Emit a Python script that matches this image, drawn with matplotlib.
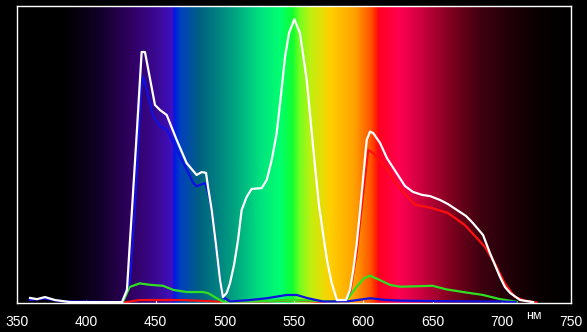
import numpy as np
import matplotlib
matplotlib.use("Agg")
import matplotlib.pyplot as plt
from matplotlib.colors import to_rgb

# ---- data (wavelength nm, relative intensity 0..100) ----
white_wl = [359.4, 364.4, 370.2, 377.4, 388.3, 425.8, 429.4, 431.6, 433.0, 436.6, 440.0, 442.4,
            449.6, 453.2, 458.1, 465.3, 472.5, 479.7, 483.4, 486.5, 487.9, 490.6, 493.7, 496.6,
            498.7, 501.4, 503.8, 506.7, 509.6, 512.2, 515.8, 519.4, 526.7, 530.3, 533.9, 537.5,
            540.6, 543.5, 546.4, 550.2, 554.3, 559.2, 562.3, 565.2, 568.0, 570.9, 573.8, 577.2,
            581.0, 587.5, 590.4, 592.8, 595.3, 597.7, 600.0, 602.5, 604.9, 607.2, 612.1, 617.1,
            626.5, 630.1, 635.9, 642.4, 648.2, 655.4, 661.2, 667.7, 674.2, 679.2, 686.5, 691.5,
            695.1, 698.7, 702.3, 706.0, 713.2, 722.6]
white_val = [1.7, 1.3, 2.0, 1.0, 0.3, 0.3, 4.4, 21.2, 31.3, 58.2, 84.5, 84.5,
             66.7, 65.0, 63.3, 54.9, 47.1, 43.1, 44.1, 43.8, 39.1, 31.3, 19.5, 7.7,
             2.0, 3.4, 6.7, 12.8, 21.2, 31.3, 35.7, 38.4, 38.7, 41.4, 48.1, 57.2,
             70.0, 82.8, 90.9, 95.5, 90.9, 75.1, 59.9, 45.8, 33.0, 23.6, 14.5, 6.7,
             1.0, 1.0, 4.4, 11.1, 20.0, 31.2, 42.4, 54.9, 57.7, 57.2, 53.9, 48.8,
             42.0, 39.4, 37.4, 36.4, 36.0, 34.7, 33.3, 31.3, 29.3, 26.9, 22.9, 16.8,
             12.8, 8.8, 5.4, 3.4, 1.0, 0.3]

blue_wl = [359.4, 370.2, 381.0, 425.8, 431.6, 434.5, 437.4, 439.5, 441.2, 448.4, 453.2, 458.1,
           467.7, 477.3, 479.7, 485.8, 488.1, 490.6, 493.7, 496.6, 498.7, 503.8, 518.2, 530.3,
           544.7, 552.0, 559.2, 570.9, 588.2, 604.9, 617.1, 626.5, 660.0, 700.0, 710.0]
blue_val = [1.0, 1.5, 0.6, 0.3, 7.4, 27.6, 51.2, 71.4, 76.2, 62.9, 59.5, 58.4,
            49.5, 40.4, 39.3, 40.4, 37.1, 31.3, 19.5, 7.7, 2.0, 0.5, 1.0, 1.6,
            2.7, 2.7, 1.7, 0.5, 0.5, 1.6, 1.0, 0.8, 0.6, 0.5, 0.3]

green_wl = [426.5, 431.3, 438.5, 446.4, 455.4, 462.9, 472.5, 484.5, 488.1, 494.2, 498.7,
            520.0, 550.0, 580.0, 588.0, 595.3, 600.5, 604.9, 612.1, 619.3, 626.5, 636.4, 650.0,
            659.9, 672.0, 686.5, 698.7, 710.8]
green_val = [0.4, 5.4, 6.6, 6.1, 5.8, 4.4, 3.7, 3.7, 3.3, 1.6, 0.4,
             0.5, 1.0, 0.5, 1.0, 5.5, 8.3, 9.2, 7.7, 6.1, 5.5, 5.6, 5.8,
             4.6, 3.7, 2.7, 1.3, 0.4]

red_wl = [426.5, 438.3, 470.0, 479.3, 493.7, 500.0, 530.0, 550.0, 570.0, 587.5, 590.4,
          595.3, 600.0, 603.6, 607.2, 615.6, 625.3, 637.2, 649.2, 661.2, 673.2, 687.7, 694.9,
          702.1, 709.3, 716.6, 725.0]
red_val = [0.1, 1.0, 1.0, 0.8, 0.5, 0.3, 0.5, 1.0, 0.3, 0.8, 3.0,
           17.0, 37.0, 51.5, 50.5, 46.0, 39.3, 33.1, 32.0, 30.3, 26.3, 19.0, 13.4,
           6.7, 2.1, 0.8, 0.2]

# spectrum background colour stops
spec_wl = [350, 385, 410, 432, 450, 462, 463.5, 468, 482, 506, 525, 540, 549, 554, 562,
           576, 594, 605, 609.5, 611, 626, 641, 663, 684, 706, 728, 750]
spec_col = ["#000000", "#000000", "#120028", "#300060", "#3a0890", "#4010c0", "#0018e8",
            "#0040c0", "#006080", "#00a080", "#00e080", "#00ff70", "#10ff30", "#70ff20",
            "#c0f010", "#ffd000", "#ffa000", "#ff5800", "#ff2000", "#ff0020", "#ff0050",
            "#d00040", "#800020", "#400010", "#200008", "#080000", "#000000"]

x_ticks = [350, 400, 450, 500, 550, 600, 650, 700, 750]
unit_label = "нм"

# ---- figure ----
W, H = 587, 332
fig = plt.figure(figsize=(W / 100, H / 100), dpi=100, facecolor="black")
ax = fig.add_axes([17 / W, (H - 303) / H, 554 / W, 297 / H])
ax.set_facecolor("black")

grid = np.linspace(350, 750, 1200)
rgb = np.array([to_rgb(c) for c in spec_col])
img = np.stack([np.interp(grid, spec_wl, rgb[:, k]) for k in range(3)], axis=-1)[None, :, :]
ax.imshow(img, extent=[350, 750, 0, 100], aspect="auto", interpolation="bilinear", zorder=0)

lw = 1.6
ax.plot(red_wl, red_val, color="#ff1010", lw=lw, zorder=2)
ax.plot(green_wl, green_val, color="#30e020", lw=lw, zorder=3)
ax.plot(blue_wl, blue_val, color="#1010e0", lw=lw, zorder=4)
ax.plot(white_wl, white_val, color="white", lw=lw, zorder=5)

ax.set_xlim(350, 750)
ax.set_ylim(0, 100)
for s in ax.spines.values():
    s.set_color("white")
    s.set_linewidth(1.0)
    s.set_zorder(6)
ax.set_yticks([])
ax.set_xticks(x_ticks)
ax.set_xticklabels([str(t) for t in x_ticks])
ax.tick_params(axis="x", direction="in", length=2.5, width=0.8, color="white",
               labelcolor="white", labelsize=10, pad=8.5)
for lab in ax.get_xticklabels():
    lab.set_family("Liberation Sans")

ax.text(723, -4.3, unit_label, color="white", fontsize=9, family="Liberation Sans",
        ha="center", va="center", clip_on=False)

fig.savefig("out.png", dpi=100, facecolor="black")
